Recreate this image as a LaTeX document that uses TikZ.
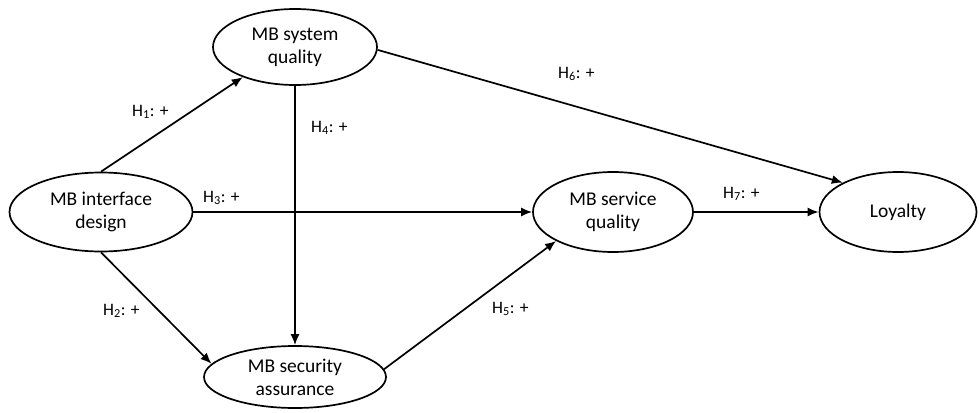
\documentclass[tikz,border=0pt]{standalone}
\usepackage{fontspec}
\setmainfont{Carlito}
\usetikzlibrary{shapes.geometric,arrows.meta}
\begin{document}
\begin{tikzpicture}[x=1pt,y=-1pt,
  construct/.style={draw,ellipse,line width=1.7pt,inner sep=0pt,align=center,
    font=\fontsize{19.5}{23}\selectfont},
  arr/.style={line width=1.7pt,-{Latex[length=11pt,width=9pt]}},
  hyp/.style={anchor=base west,inner sep=0pt,font=\fontsize{17.5}{20}\selectfont}]
\path[use as bounding box] (0,0) rectangle (979,412);
\node[construct,minimum width=183pt,minimum height=79pt] (iface) at (101,212) {MB interface\\design};
\node[construct,minimum width=164pt,minimum height=76pt] (sys) at (295,47) {MB system\\quality};
\node[construct,minimum width=182pt,minimum height=62pt] (sec) at (295,377) {MB security\\assurance};
\node[construct,minimum width=160pt,minimum height=80pt] (serv) at (613,212) {MB service\\quality};
\node[construct,minimum width=157pt,minimum height=80pt] (loy) at (898,212) {Loyalty};
\draw[arr] (iface.north) -- (sys.210);
\draw[arr] (iface.south) -- (sec.171);
\draw[arr] (iface.east) -- (serv.west);
\draw[arr] (sys.south) -- (sec.north);
\draw[arr] (sec.5) -- (serv.207);
\draw[arr] (sys.358) -- (loy.152);
\draw[arr] (serv.east) -- (loy.west);
\node[hyp] (h1) at (132,116) {H\textsubscript{1}: +};
\node[hyp] (h2) at (103,315) {H\textsubscript{2}: +};
\node[hyp] (h3) at (203,202) {H\textsubscript{3}: +};
\node[hyp] (h4) at (311,132) {H\textsubscript{4}: +};
\node[hyp] (h5) at (492,313) {H\textsubscript{5}: +};
\node[hyp] (h6) at (558,78) {H\textsubscript{6}: +};
\node[hyp] (h7) at (723,198) {H\textsubscript{7}: +};
\end{tikzpicture}
\end{document}
